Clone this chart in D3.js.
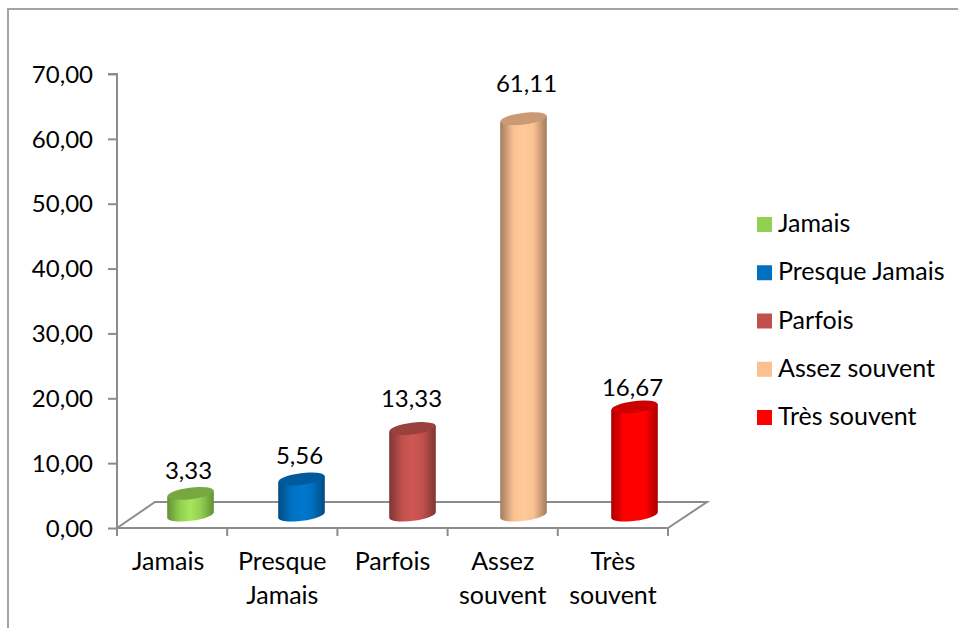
<!DOCTYPE html>
<html lang="fr">
<head>
<meta charset="utf-8">
<style>
html,body{margin:0;padding:0;background:#fff}
svg{display:block}
text{font-family:Lato,"Open Sans",sans-serif;fill:#000;font-size:25px}
.num text,text.num{font-size:24px}
</style>
<script src="https://cdn.jsdelivr.net/npm/d3@7/dist/d3.min.js"></script>
</head>
<body>
<svg id="chart" width="958" height="628"></svg>
<script>
// Data
const categories = ["Jamais", "Presque Jamais", "Parfois", "Assez souvent", "Très souvent"];
const categoryLines = [["Jamais"], ["Presque", "Jamais"], ["Parfois"], ["Assez", "souvent"], ["Très", "souvent"]];
const values = [3.33, 5.56, 13.33, 61.11, 16.67];
const yTicks = [0, 10, 20, 30, 40, 50, 60, 70];

// Styling
const sideColors = ["#92d050", "#0070c0", "#c0504d", "#fac090", "#ff0000"];
const glowColors = ["#a4e65c", "#0078cf", "#d05753", "#ffcb9b", "#ff0000"];
const capColors = ["#76a83f", "#005a9c", "#9a403d", "#c99a73", "#cc0000"];
const edgeColors = ["#638f35", "#004c82", "#7f3533", "#a17c5d", "#ab0000"];
const axisColor = "#8c8c8c";

// Value labels sit at slightly uneven spots above the cylinders
const labelNudge = [[-2, -27], [-2, -28], [-1, -35], [3, -40], [-2, -24]];

// Layout
const svg = d3.select("#chart");
const floorDepth = { x: 38, y: -26 };
const x = d3.scaleBand().domain(categories).range([117, 668]);
const xBar = d3.scaleBand().domain(categories).range([135, 690]);
const y = d3.scaleLinear().domain([0, 70]).range([528, 74]);
const nf = d3.formatLocale({ decimal: ",", thousands: " ", grouping: [3], currency: ["", ""] }).format(".2f");
const barCenter = i => xBar(categories[i]) + xBar.bandwidth() / 2;

// Frame around the chart area
svg.append("path")
  .attr("d", "M8,628V9H958")
  .attr("fill", "none")
  .attr("stroke", "#a3a3a3")
  .attr("stroke-width", 2);

// Floor of the 3D plot
const x0 = x.range()[0], x1 = x.range()[1], y0 = y(0);
svg.append("path")
  .attr("d", d3.line()([
    [x0, y0],
    [x0 + floorDepth.x, y0 + floorDepth.y],
    [x1 + floorDepth.x + 1, y0 + floorDepth.y],
    [x1, y0]
  ]))
  .attr("fill", "none")
  .attr("stroke", axisColor)
  .attr("stroke-width", 2);

// Value axis
const yAxis = svg.append("g")
  .attr("class", "num")
  .attr("transform", `translate(${x0},0)`)
  .call(d3.axisLeft(y).tickValues(yTicks).tickFormat(nf).tickSize(9).tickPadding(15));
yAxis.selectAll("path,line").attr("stroke", axisColor).attr("stroke-width", 2);
yAxis.select("path").attr("d", `M-9,${y(70)}H0V${y0}`);
yAxis.selectAll("text").attr("dy", "0.34em");
yAxis.attr("font-family", null).attr("font-size", null);

// Category axis: ticks at band edges, wrapped labels
const edges = categories.map(c => x(c)).concat(x1);
const xAxis = svg.append("g");
xAxis.append("line")
  .attr("x1", x0).attr("x2", x1).attr("y1", y0).attr("y2", y0)
  .attr("stroke", axisColor).attr("stroke-width", 2);
xAxis.selectAll("line.tick").data(edges).join("line")
  .attr("class", "tick")
  .attr("x1", d => d).attr("x2", d => d)
  .attr("y1", y0).attr("y2", y0 + 8)
  .attr("stroke", axisColor).attr("stroke-width", 2);
const catLabels = xAxis.selectAll("text").data(categories).join("text")
  .attr("text-anchor", "middle")
  .attr("x", (d, i) => x(d) + x.bandwidth() / 2 - (i === 0 ? 4 : 0))
  .attr("y", 570);
catLabels.selectAll("tspan").data((d, i) => categoryLines[i]).join("tspan")
  .attr("x", function () { return d3.select(this.parentNode).attr("x"); })
  .attr("dy", (d, i) => (i ? 34 : 0))
  .text(d => d);

// Horizontal gradients give the cylinders their round look
const defs = svg.append("defs");
categories.forEach((c, i) => {
  const g = defs.append("linearGradient").attr("id", "side" + i)
    .attr("x1", 0).attr("x2", 1).attr("y1", 0).attr("y2", 0);
  g.append("stop").attr("offset", 0).attr("stop-color", edgeColors[i]);
  g.append("stop").attr("offset", 0.28).attr("stop-color", sideColors[i]);
  g.append("stop").attr("offset", 0.5).attr("stop-color", glowColors[i]);
  g.append("stop").attr("offset", 0.72).attr("stop-color", sideColors[i]);
  g.append("stop").attr("offset", 1).attr("stop-color", edgeColors[i]);
});

// Cylinders
const rx = 23.3, ry = 5.8, tilt = 3, tiltDeg = -7.3;
const cylinders = svg.append("g").selectAll("g").data(values).join("g")
  .attr("transform", (d, i) => `translate(${barCenter(i)},0)`);
const baseY = y0 + floorDepth.y / 2;
const topY = v => y(v) + floorDepth.y / 2;
cylinders.append("path")
  .attr("fill", (d, i) => `url(#side${i})`)
  .attr("d", d => `M${-rx},${topY(d) + tilt}V${baseY + tilt}` +
    `A${rx},${ry} ${tiltDeg} 0 0 ${rx},${baseY - tilt}V${topY(d) - tilt}Z`);
cylinders.append("ellipse")
  .attr("rx", rx).attr("ry", ry)
  .attr("fill", (d, i) => capColors[i])
  .attr("transform", d => `translate(0,${topY(d)}) rotate(${tiltDeg})`);

// Value labels
svg.append("g").attr("class", "num").selectAll("text").data(values).join("text")
  .attr("text-anchor", "middle")
  .attr("x", (d, i) => barCenter(i) + labelNudge[i][0])
  .attr("y", (d, i) => y(d) + labelNudge[i][1])
  .text(nf);

// Legend
const legendY = d3.scalePoint().domain(categories).range([224.5, 417.5]);
const legend = svg.append("g").selectAll("g").data(categories).join("g")
  .attr("transform", d => `translate(757,${legendY(d)})`);
legend.append("rect")
  .attr("x", 0).attr("y", -7.5).attr("width", 15).attr("height", 15)
  .attr("fill", (d, i) => sideColors[i]);
legend.append("text")
  .attr("x", 21).attr("y", 7.5)
  .text(d => d);
</script>
</body>
</html>
